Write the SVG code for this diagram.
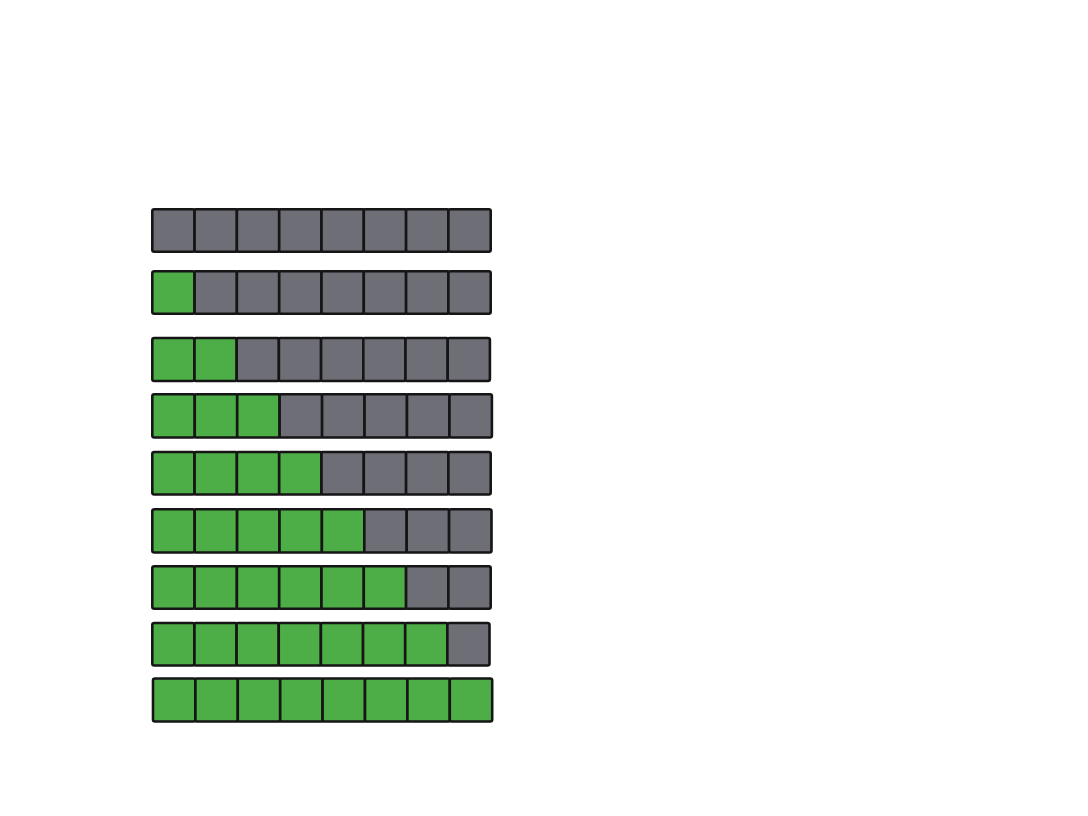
<svg xmlns="http://www.w3.org/2000/svg" width="1088" height="816" viewBox="0 0 1088 816">
<style>
.g,.k{stroke:#151515;stroke-width:2.6;stroke-linejoin:round}
.g{fill:#4dad47}
.k{fill:#6e6e77}
</style>
<rect x="0" y="0" width="1088" height="816" fill="#ffffff"/>
<g id="row1" transform="translate(152.3,209.3)">
<rect class="k" x="0" y="0" width="42.3" height="42.5" rx="2"/>
<rect class="k" x="42.3" y="0" width="42.3" height="42.5" rx="1"/>
<rect class="k" x="84.6" y="0" width="42.3" height="42.5" rx="1"/>
<rect class="k" x="126.9" y="0" width="42.3" height="42.5" rx="1"/>
<rect class="k" x="169.2" y="0" width="42.3" height="42.5" rx="1"/>
<rect class="k" x="211.5" y="0" width="42.3" height="42.5" rx="1"/>
<rect class="k" x="253.8" y="0" width="42.3" height="42.5" rx="1"/>
<rect class="k" x="296.1" y="0" width="42.3" height="42.5" rx="2"/>
</g>
<g id="row2" transform="translate(152.3,271.3)">
<rect class="g" x="0" y="0" width="42.3" height="42.5" rx="2"/>
<rect class="k" x="42.3" y="0" width="42.3" height="42.5" rx="1"/>
<rect class="k" x="84.6" y="0" width="42.3" height="42.5" rx="1"/>
<rect class="k" x="126.9" y="0" width="42.3" height="42.5" rx="1"/>
<rect class="k" x="169.2" y="0" width="42.3" height="42.5" rx="1"/>
<rect class="k" x="211.5" y="0" width="42.3" height="42.5" rx="1"/>
<rect class="k" x="253.8" y="0" width="42.3" height="42.5" rx="1"/>
<rect class="k" x="296.1" y="0" width="42.3" height="42.5" rx="2"/>
</g>
<g id="row3" transform="translate(152.3,338)">
<rect class="g" x="0" y="0" width="42.2" height="43" rx="2"/>
<rect class="g" x="42.2" y="0" width="42.2" height="43" rx="1"/>
<rect class="k" x="84.4" y="0" width="42.2" height="43" rx="1"/>
<rect class="k" x="126.6" y="0" width="42.2" height="43" rx="1"/>
<rect class="k" x="168.8" y="0" width="42.2" height="43" rx="1"/>
<rect class="k" x="211" y="0" width="42.2" height="43" rx="1"/>
<rect class="k" x="253.2" y="0" width="42.2" height="43" rx="1"/>
<rect class="k" x="295.4" y="0" width="42.2" height="43" rx="2"/>
</g>
<g id="row4" transform="translate(152.3,394.3)">
<rect class="g" x="0" y="0" width="42.45" height="43.2" rx="2"/>
<rect class="g" x="42.45" y="0" width="42.45" height="43.2" rx="1"/>
<rect class="g" x="84.9" y="0" width="42.45" height="43.2" rx="1"/>
<rect class="k" x="127.35" y="0" width="42.45" height="43.2" rx="1"/>
<rect class="k" x="169.8" y="0" width="42.45" height="43.2" rx="1"/>
<rect class="k" x="212.25" y="0" width="42.45" height="43.2" rx="1"/>
<rect class="k" x="254.7" y="0" width="42.45" height="43.2" rx="1"/>
<rect class="k" x="297.15" y="0" width="42.45" height="43.2" rx="2"/>
</g>
<g id="row5" transform="translate(152.3,452)">
<rect class="g" x="0" y="0" width="42.3" height="42.5" rx="2"/>
<rect class="g" x="42.3" y="0" width="42.3" height="42.5" rx="1"/>
<rect class="g" x="84.6" y="0" width="42.3" height="42.5" rx="1"/>
<rect class="g" x="126.9" y="0" width="42.3" height="42.5" rx="1"/>
<rect class="k" x="169.2" y="0" width="42.3" height="42.5" rx="1"/>
<rect class="k" x="211.5" y="0" width="42.3" height="42.5" rx="1"/>
<rect class="k" x="253.8" y="0" width="42.3" height="42.5" rx="1"/>
<rect class="k" x="296.1" y="0" width="42.3" height="42.5" rx="2"/>
</g>
<g id="row6" transform="translate(152.3,509.3)">
<rect class="g" x="0" y="0" width="42.4" height="43.2" rx="2"/>
<rect class="g" x="42.4" y="0" width="42.4" height="43.2" rx="1"/>
<rect class="g" x="84.8" y="0" width="42.4" height="43.2" rx="1"/>
<rect class="g" x="127.2" y="0" width="42.4" height="43.2" rx="1"/>
<rect class="g" x="169.6" y="0" width="42.4" height="43.2" rx="1"/>
<rect class="k" x="212" y="0" width="42.4" height="43.2" rx="1"/>
<rect class="k" x="254.4" y="0" width="42.4" height="43.2" rx="1"/>
<rect class="k" x="296.8" y="0" width="42.4" height="43.2" rx="2"/>
</g>
<g id="row7" transform="translate(152.3,566.3)">
<rect class="g" x="0" y="0" width="42.3" height="42.5" rx="2"/>
<rect class="g" x="42.3" y="0" width="42.3" height="42.5" rx="1"/>
<rect class="g" x="84.6" y="0" width="42.3" height="42.5" rx="1"/>
<rect class="g" x="126.9" y="0" width="42.3" height="42.5" rx="1"/>
<rect class="g" x="169.2" y="0" width="42.3" height="42.5" rx="1"/>
<rect class="g" x="211.5" y="0" width="42.3" height="42.5" rx="1"/>
<rect class="k" x="253.8" y="0" width="42.3" height="42.5" rx="1"/>
<rect class="k" x="296.1" y="0" width="42.3" height="42.5" rx="2"/>
</g>
<g id="row8" transform="translate(152.3,623)">
<rect class="g" x="0" y="0" width="42.15" height="42.5" rx="2"/>
<rect class="g" x="42.15" y="0" width="42.15" height="42.5" rx="1"/>
<rect class="g" x="84.3" y="0" width="42.15" height="42.5" rx="1"/>
<rect class="g" x="126.45" y="0" width="42.15" height="42.5" rx="1"/>
<rect class="g" x="168.6" y="0" width="42.15" height="42.5" rx="1"/>
<rect class="g" x="210.75" y="0" width="42.15" height="42.5" rx="1"/>
<rect class="g" x="252.9" y="0" width="42.15" height="42.5" rx="1"/>
<rect class="k" x="295.05" y="0" width="42.15" height="42.5" rx="2"/>
</g>
<g id="row9" transform="translate(153,678.5)">
<rect class="g" x="0" y="0" width="42.4" height="43" rx="2"/>
<rect class="g" x="42.4" y="0" width="42.4" height="43" rx="1"/>
<rect class="g" x="84.8" y="0" width="42.4" height="43" rx="1"/>
<rect class="g" x="127.2" y="0" width="42.4" height="43" rx="1"/>
<rect class="g" x="169.6" y="0" width="42.4" height="43" rx="1"/>
<rect class="g" x="212" y="0" width="42.4" height="43" rx="1"/>
<rect class="g" x="254.4" y="0" width="42.4" height="43" rx="1"/>
<rect class="g" x="296.8" y="0" width="42.4" height="43" rx="2"/>
</g>
</svg>
